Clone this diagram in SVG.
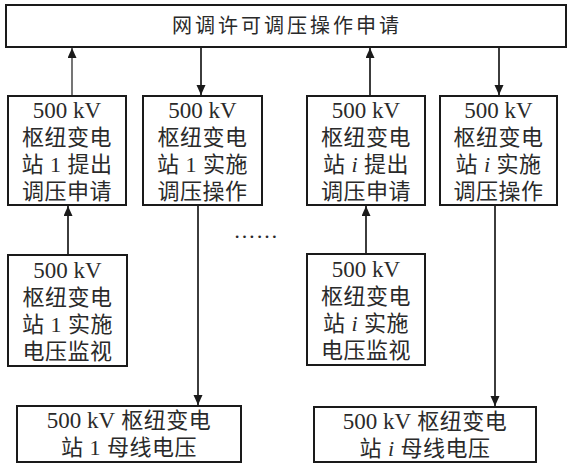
<svg xmlns="http://www.w3.org/2000/svg" width="569" height="464" viewBox="0 0 569 464">
<defs>
<marker id="arr" markerUnits="userSpaceOnUse" markerWidth="10" markerHeight="12" refX="10" refY="4.5" orient="auto">
<path d="M0,0 L10,4.5 L0,9 Z" fill="#1a1a1a"/>
</marker>
<style>
.box{fill:#fff;stroke:#1a1a1a;stroke-width:2}
.t{font-family:"Liberation Serif","Noto Sans CJK SC",serif;font-size:22px;fill:#2a2a2a;text-anchor:middle;letter-spacing:0.5px}
.kv{font-size:23px;letter-spacing:0}
.top{font-family:"Noto Sans CJK SC",sans-serif;font-size:20px;fill:#2a2a2a;text-anchor:middle;letter-spacing:3px}
.c{stroke:#1a1a1a;stroke-width:1.7;fill:none;marker-end:url(#arr)}
.thin{stroke-width:1.2}
.it{font-style:italic}
</style>
</defs>
<rect width="569" height="464" fill="#fff"/>
<g id="top">
<rect class="box" x="6" y="5" width="560" height="42"/>
<text class="top" x="287" y="33">网调许可调压操作申请</text>
</g>
<g id="n1">
<rect class="box" x="8" y="96" width="118" height="109"/>
<text class="t kv" x="67" y="118">500 kV</text>
<text class="t" x="67" y="145">枢纽变电</text>
<text class="t" x="67" y="172">站 1 提出</text>
<text class="t" x="67" y="199">调压申请</text>
</g>
<g id="n2">
<rect class="box" x="143" y="96" width="119" height="109"/>
<text class="t kv" x="202.5" y="118">500 kV</text>
<text class="t" x="202.5" y="145">枢纽变电</text>
<text class="t" x="202.5" y="172">站 1 实施</text>
<text class="t" x="202.5" y="199">调压操作</text>
</g>
<g id="n3">
<rect class="box" x="307" y="96" width="118" height="109"/>
<text class="t kv" x="366" y="118">500 kV</text>
<text class="t" x="366" y="145">枢纽变电</text>
<text class="t" x="366" y="172">站 <tspan class="it">i</tspan> 提出</text>
<text class="t" x="366" y="199">调压申请</text>
</g>
<g id="n4">
<rect class="box" x="440" y="96" width="117" height="109"/>
<text class="t kv" x="498.5" y="118">500 kV</text>
<text class="t" x="498.5" y="145">枢纽变电</text>
<text class="t" x="498.5" y="172">站 <tspan class="it">i</tspan> 实施</text>
<text class="t" x="498.5" y="199">调压操作</text>
</g>
<g id="n5">
<rect class="box" x="8" y="255" width="119" height="111"/>
<text class="t kv" x="67.5" y="278">500 kV</text>
<text class="t" x="67.5" y="305">枢纽变电</text>
<text class="t" x="67.5" y="332">站 1 实施</text>
<text class="t" x="67.5" y="359">电压监视</text>
</g>
<g id="n6">
<rect class="box" x="307" y="254" width="118" height="111"/>
<text class="t kv" x="366" y="277">500 kV</text>
<text class="t" x="366" y="304">枢纽变电</text>
<text class="t" x="366" y="331">站 <tspan class="it">i</tspan> 实施</text>
<text class="t" x="366" y="358">电压监视</text>
</g>
<g id="n7">
<rect class="box" x="17" y="406" width="224" height="56"/>
<text class="t" x="129" y="428"><tspan class="kv">500 kV</tspan> 枢纽变电</text>
<text class="t" x="129" y="455">站 1 母线电压</text>
</g>
<g id="n8">
<rect class="box" x="314" y="407" width="222" height="55"/>
<text class="t" x="425" y="429"><tspan class="kv">500 kV</tspan> 枢纽变电</text>
<text class="t" x="425" y="456">站 <tspan class="it">i</tspan> 母线电压</text>
</g>
<g id="ellipsis">
<text class="t" x="256" y="238">……</text>
</g>
<g id="connectors">
<line class="c thin" x1="72" y1="95" x2="72" y2="48"/>
<line class="c" x1="201" y1="48" x2="201" y2="95"/>
<line class="c" x1="370" y1="95" x2="370" y2="48"/>
<line class="c" x1="499" y1="48" x2="499" y2="95"/>
<line class="c" x1="68" y1="254" x2="68" y2="206"/>
<line class="c" x1="198" y1="206" x2="198" y2="405"/>
<line class="c" x1="366" y1="253" x2="366" y2="206"/>
<line class="c" x1="495" y1="206" x2="495" y2="406"/>
</g>
</svg>
